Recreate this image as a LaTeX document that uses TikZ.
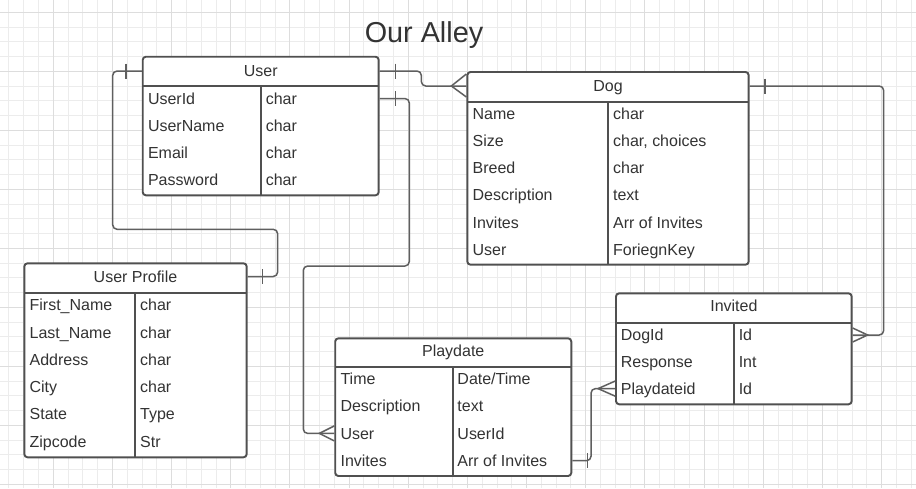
\documentclass[tikz,border=0pt]{standalone}
\usepackage{fontspec}
\setmainfont{Liberation Sans}
\usepackage{xcolor}
\usepackage{tikz}
\usetikzlibrary{positioning,calc}
\definecolor{GridMinor}{RGB}{236,236,236}
\definecolor{GridMajor}{RGB}{221,221,221}
\definecolor{LineGray}{RGB}{80,80,80}
\definecolor{LinkGray}{RGB}{95,95,95}
\definecolor{TextGray}{RGB}{51,51,51}

\begin{document}
\begin{tikzpicture}[x=0.02cm, y=-0.02cm]
	\tikzset{
		tbl/.style={draw=LineGray, line width=1.1pt, fill=white, rounded corners=1.8pt,
			inner sep=0pt},
		sep/.style={draw=LineGray, line width=1.1pt},
		hd/.style={font=\fontsize{9.1pt}{11pt}\selectfont, text=TextGray, inner sep=0pt,
			text height=6.5pt, text depth=0pt},
		fld/.style={hd, anchor=west},
		rel/.style={draw=LinkGray, line width=0.85pt, rounded corners=2.5pt},
		tick/.style={draw=LinkGray, line width=0.85pt}
	}
	% background grid
	\useasboundingbox (0,0) rectangle (916,488);
	\fill[white] (0,0) rectangle (916,488);
	\foreach \i in {0,...,61}
		\draw[GridMinor, line width=0.5pt] ({8.9+14.79*\i},0) -- ({8.9+14.79*\i},488);
	\foreach \j in {0,...,32}
		\draw[GridMinor, line width=0.5pt] (0,{12.3+14.75*\j}) -- (916,{12.3+14.75*\j});
	\foreach \i in {3,7,...,59}
		\draw[GridMajor, line width=0.55pt] ({8.9+14.79*\i},0) -- ({8.9+14.79*\i},488);
	\foreach \j in {0,4,...,32}
		\draw[GridMajor, line width=0.55pt] (0,{12.3+14.75*\j}) -- (916,{12.3+14.75*\j});
	
	\node[text=TextGray, font=\fontsize{16.4pt}{19pt}\selectfont, inner sep=0pt,
		text height=11.7pt, text depth=0pt] (title) at (424,32.5) {Our Alley};
	
	% User
	\node[tbl, minimum width=4.72cm, minimum height=2.772cm] (user) at (260.7,126) {};
	\draw[sep] (142.7,86) -- (378.7,86);
	\draw[sep] (261,86) -- (261,195.3);
	\node[hd] (user-t) at (260.7,71) {User};
	\node[fld] (u-id) at (147.7,98.5) {UserId};
	\node[fld] (u-name) at (147.7,125.5) {UserName};
	\node[fld] (u-mail) at (147.7,152.5) {Email};
	\node[fld] (u-pass) at (147.7,179.5) {Password};
	\node[fld] (u-id-ty) at (265.5,98.5) {char};
	\node[fld] (u-name-ty) at (265.5,125.5) {char};
	\node[fld] (u-mail-ty) at (265.5,152.5) {char};
	\node[fld] (u-pass-ty) at (265.5,179.5) {char};
	
	% Dog
	\node[tbl, minimum width=5.628cm, minimum height=3.854cm] (dog) at (608,168.35) {};
	\draw[sep] (467.3,101.7) -- (748.7,101.7);
	\draw[sep] (608.3,101.7) -- (608.3,264.7);
	\node[hd] (dog-t) at (608,86) {Dog};
	\node[fld] (d-name) at (472.3,113.3) {Name};
	\node[fld] (d-size) at (472.3,140.6) {Size};
	\node[fld] (d-breed) at (472.3,167.9) {Breed};
	\node[fld] (d-desc) at (472.3,195.2) {Description};
	\node[fld] (d-inv) at (472.3,222.5) {Invites};
	\node[fld] (d-user) at (472.3,249.8) {User};
	\node[fld] (d-name-ty) at (612.8,113.3) {char};
	\node[fld] (d-size-ty) at (612.8,140.6) {char, choices};
	\node[fld] (d-breed-ty) at (612.8,167.9) {char};
	\node[fld] (d-desc-ty) at (612.8,195.2) {text};
	\node[fld] (d-inv-ty) at (612.8,222.5) {Arr of Invites};
	\node[fld] (d-user-ty) at (612.8,249.8) {ForiegnKey};
	
	% User Profile
	\node[tbl, minimum width=4.448cm, minimum height=3.88cm] (prof) at (135.5,360.3) {};
	\draw[sep] (24.3,292.7) -- (246.7,292.7);
	\draw[sep] (135.3,292.7) -- (135.3,457.3);
	\node[hd] (prof-t) at (135.5,276.5) {User Profile};
	\node[fld] (pr-first) at (29.3,305) {First\_Name};
	\node[fld] (pr-last) at (29.3,332.3) {Last\_Name};
	\node[fld] (pr-addr) at (29.3,359.6) {Address};
	\node[fld] (pr-city) at (29.3,386.9) {City};
	\node[fld] (pr-state) at (29.3,414.2) {State};
	\node[fld] (pr-zip) at (29.3,441.5) {Zipcode};
	\node[fld] (pr-first-ty) at (139.8,305) {char};
	\node[fld] (pr-last-ty) at (139.8,332.3) {char};
	\node[fld] (pr-addr-ty) at (139.8,359.6) {char};
	\node[fld] (pr-city-ty) at (139.8,386.9) {char};
	\node[fld] (pr-state-ty) at (139.8,414.2) {Type};
	\node[fld] (pr-zip-ty) at (139.8,441.5) {Str};
	
	% Playdate
	\node[tbl, minimum width=4.722cm, minimum height=2.754cm] (play) at (453.25,407.15) {};
	\draw[sep] (335.2,367.3) -- (571.3,367.3);
	\draw[sep] (452.6,367.3) -- (452.6,476);
	\node[hd] (play-t) at (453.25,351) {Playdate};
	\node[fld] (p-time) at (340.2,379) {Time};
	\node[fld] (p-desc) at (340.2,406.2) {Description};
	\node[fld] (p-user) at (340.2,433.4) {User};
	\node[fld] (p-inv) at (340.2,460.6) {Invites};
	\node[fld] (p-time-ty) at (457.1,379) {Date/Time};
	\node[fld] (p-desc-ty) at (457.1,406.2) {text};
	\node[fld] (p-user-ty) at (457.1,433.4) {UserId};
	\node[fld] (p-inv-ty) at (457.1,460.6) {Arr of Invites};
	
	% Invited
	\node[tbl, minimum width=4.714cm, minimum height=2.22cm] (inv) at (733.85,348.8) {};
	\draw[sep] (616,322.7) -- (851.7,322.7);
	\draw[sep] (733.9,322.7) -- (733.9,404.3);
	\node[hd] (inv-t) at (733.85,306) {Invited};
	\node[fld] (i-dog) at (620.5,335) {DogId};
	\node[fld] (i-resp) at (620.5,361.7) {Response};
	\node[fld] (i-play) at (620.5,388.6) {Playdateid};
	\node[fld] (i-dog-ty) at (738.4,335) {Id};
	\node[fld] (i-resp-ty) at (738.4,361.7) {Int};
	\node[fld] (i-play-ty) at (738.4,388.6) {Id};
	
	% User -- User Profile
	\draw[rel] (user.west |- user-t) -| (112.7,229.3) -| ($(prof.east |- prof-t)+(30,0)$) -- (prof.east |- prof-t);
	\draw[tick] ($(user.west |- user-t)+(-16,-7.5)$) -- ++(0,15);
	\draw[tick] ($(prof.east |- prof-t)+(15,-7.5)$) -- ++(0,15);
	
	% User -- Dog
	\draw[rel] (user.east |- user-t) -| ($(dog.west |- dog-t)+(-45,0)$) -- (dog.west |- dog-t);
	\draw[tick] ($(user.east |- user-t)+(16,-7.5)$) -- ++(0,15);
	\draw[tick] ($(dog.west |- dog-t)+(0,-12)$) -- ++(-15,12) -- ++(15,11);
	
	% User -- Playdate
	\draw[rel] (user.east |- u-id) -| (409.3,266) -| ($(play.west |- p-user)+(-31,0)$) -- (play.west |- p-user);
	\draw[tick] ($(user.east |- u-id)+(16,-7.5)$) -- ++(0,15);
	\draw[tick] ($(play.west |- p-user)+(0,-7.5)$) -- ++(-15,7.5) -- ++(15,7.5);
	
	% Dog -- Invited
	\draw[rel] (dog.east |- dog-t) -| ($(inv.east |- i-dog)+(31,0)$) -- (inv.east |- i-dog);
	\draw[tick] ($(dog.east |- dog-t)+(15.5,-7.5)$) -- ++(0,15);
	\draw[tick] ($(inv.east |- i-dog)+(0,-7)$) -- ++(15,7) -- ++(-15,7);
	
	% Playdate -- Invited
	\draw[rel] (play.east |- p-inv) -| ($(inv.west |- i-play)+(-24,0)$) -- (inv.west |- i-play);
	\draw[tick] ($(play.east |- p-inv)+(15.5,-7.5)$) -- ++(0,15);
	\draw[tick] ($(inv.west |- i-play)+(0,-7.5)$) -- ++(-17,7.5) -- ++(17,7.5);
\end{tikzpicture}
\end{document}
